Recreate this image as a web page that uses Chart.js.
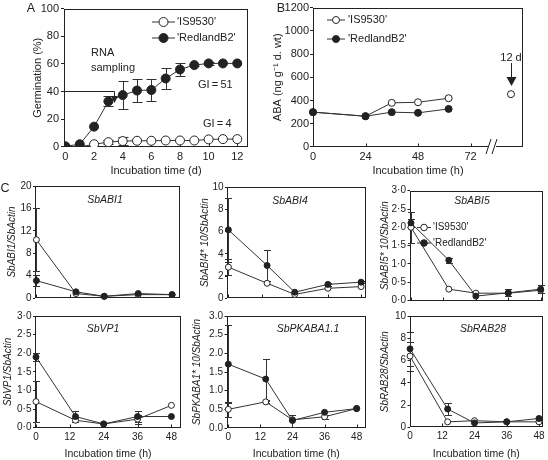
<!DOCTYPE html>
<html><head><meta charset="utf-8">
<script src="https://cdn.jsdelivr.net/npm/chart.js@4.4.1/dist/chart.umd.min.js"></script>
<style>
html,body{margin:0;padding:0;background:#fff;}
#wrap{position:relative;width:548px;height:460px;overflow:hidden;}
#wrap canvas{position:absolute;left:0;top:0;}
.n{position:absolute;white-space:nowrap;line-height:1;color:#222;font-family:'Liberation Sans',Arial,Helvetica,sans-serif;transform:translate(-50%,-50%);}
.n.l{transform:translate(0,-50%);}
.n.i{font-style:italic;font-family:'Liberation Sans Narrow','Arial Narrow','Liberation Sans',Arial,sans-serif;}
</style></head><body><div id="wrap">
<canvas id="cA" width="548" height="460"></canvas>
<canvas id="cB" width="548" height="460"></canvas>
<canvas id="c1" width="548" height="460"></canvas>
<canvas id="c2" width="548" height="460"></canvas>
<canvas id="c3" width="548" height="460"></canvas>
<canvas id="c4" width="548" height="460"></canvas>
<canvas id="c5" width="548" height="460"></canvas>
<canvas id="c6" width="548" height="460"></canvas>
</div>
<script>
// ---------- DATA ----------
// Panel A: germination (%)
const daysA = [0,1,2,3,4,5,6,7,8,9,10,11,12];
const germIS = [0,0,2,3.5,4.3,4.5,4.5,4.7,4.7,4.7,5.5,5.7,5.7];
const germISErr = [0,0,0,1.5,3,0,0,0,0,0,0,0,0];
const germRB = [0.5,2,14.7,33,37.5,40.8,41.2,49.5,56,59.2,60.4,60.4,60.4];
const germRBErr = [0,0,0,3.5,10,8.5,7.7,7.5,4.5,1,0.8,0,0];
const ticksAX = [0,2,4,6,8,10,12];
const ticksAY = [0,20,40,60,80,100];

// Panel B: ABA (ng/g d.wt)
const hoursB = [0,24,36,48,62];
const abaIS = [300,265,380,385,420];
const abaRB = [300,265,300,294,328];
const hour12d = 90.5;          // position of the 12 d sample after the axis break
const abaIS12d = 455;
const ticksBX = [0,24,48,72];
const ticksBY = [0,200,400,600,800,1000,1200];

// Panel C: relative expression
const hoursC = [0,14,24,36,48];
const ticksCX = [0,12,24,36,48];
const abi1IS = [10.4,0.8,0.3,0.6,0.6], abi1ISErr = [5.6,0,0,0,0];
const abi1RB = [3.1,1.1,0.3,0.8,0.6],  abi1RBErr = [1.0,0,0,0,0];
const abi4IS = [2.8,1.35,0.35,0.9,1.05], abi4ISErr = [0.7,0,0,0,0];
const abi4RB = [6.15,2.95,0.55,1.25,1.45], abi4RBErr = [2.85,1.4,0,0.1,0.1];
const abi5IS = [2.0,0.31,0.2,0.2,0.28], abi5ISErr = [0.42,0,0,0,0];
const abi5RB = [2.12,1.1,0.12,0.21,0.31], abi5RBErr = [0.1,0.07,0,0.1,0.1];
const vp1IS = [0.7,0.2,0.1,0.23,0.6], vp1ISErr = [0.56,0.05,0,0.12,0];
const vp1RB = [1.9,0.3,0.1,0.3,0.3],  vp1RBErr = [0.1,0.15,0,0.15,0];
const pkIS = [0.5,0.7,0.22,0.3,0.52], pkISErr = [0.2,0.03,0,0.06,0];
const pkRB = [1.71,1.31,0.2,0.42,0.52], pkRBErr = [1.05,0.55,0.16,0,0];
const rabIS = [6.4,0.5,0.6,0.5,0.5], rabISErr = [1.3,0,0,0,0];
const rabRB = [7.05,1.65,0.4,0.5,0.8], rabRBErr = [1.5,0.5,0,0,0];
const ticksY20 = [0,4,8,12,16,20];
const ticksY10 = [0,2,4,6,8,10];
const ticksY3 = [0,0.5,1,1.5,2,2.5,3];

const seriesNames = ["'IS9530'", "'RedlandB2'"];

// ---------- HELPERS ----------
const W = 548, H = 460;
const FONT = "'Liberation Sans', Arial, Helvetica, sans-serif";
const INK = '#222', LINE = '#333';

function ser(xs, ys, errs, filled, r, extra) {
  return Object.assign({
    data: xs.map((x, i) => ({x: x, y: ys[i]})),
    errors: errs,
    borderColor: LINE, borderWidth: 1, tension: 0, fill: false,
    pointRadius: r, pointHoverRadius: r, pointBorderWidth: 1,
    pointBackgroundColor: filled ? INK : '#fff', pointBorderColor: INK,
    order: filled ? 0 : 1, clip: false
  }, extra || {});
}

function legendItem(ctx, x1, x2, y, filled, r, text, tx, size) {
  ctx.save();
  ctx.strokeStyle = LINE; ctx.lineWidth = 1;
  ctx.beginPath(); ctx.moveTo(x1, y); ctx.lineTo(x2, y); ctx.stroke();
  ctx.beginPath(); ctx.arc((x1 + x2) / 2, y, r, 0, Math.PI * 2);
  ctx.fillStyle = filled ? INK : '#fff'; ctx.fill(); ctx.strokeStyle = INK; ctx.stroke();
  ctx.fillStyle = INK; ctx.font = size + 'px ' + FONT; ctx.textBaseline = 'middle'; ctx.textAlign = 'left';
  ctx.fillText(text, tx, y);
  ctx.restore();
}

function decor(P) {
  return {
    id: 'decor',
    beforeDatasetsDraw(chart) {
      const ctx = chart.ctx, a = chart.chartArea, xs = chart.scales.x, ys = chart.scales.y;
      ctx.save();
      ctx.strokeStyle = INK; ctx.lineWidth = 1;
      const L = Math.round(a.left) + 0.5, T = Math.round(a.top) + 0.5, R = Math.round(a.right) - 0.5, B = Math.round(a.bottom) - 0.5;
      ctx.strokeRect(L, T, R - L, B - T);
      P.xTicks.forEach(v => {
        const px = Math.round(xs.getPixelForValue(v)) + 0.5;
        ctx.beginPath(); ctx.moveTo(px, B); ctx.lineTo(px, B - 3); ctx.stroke();
      });
      ctx.strokeStyle = LINE;
      chart.data.datasets.forEach(ds => {
        if (!ds.errors) return;
        ds.data.forEach((p, j) => {
          const e = ds.errors[j]; if (!e) return;
          const px = Math.round(xs.getPixelForValue(p.x)) + 0.5;
          const y1 = Math.round(ys.getPixelForValue(p.y + e)) + 0.5;
          const y2 = Math.round(ys.getPixelForValue(Math.max(p.y - e, ys.min))) + 0.5;
          const c = P.cap;
          ctx.beginPath();
          ctx.moveTo(px, y1); ctx.lineTo(px, y2);
          ctx.moveTo(px - c, y1); ctx.lineTo(px + c, y1);
          if (p.y - e > ys.min) { ctx.moveTo(px - c, y2); ctx.lineTo(px + c, y2); }
          ctx.stroke();
        });
      });
      ctx.restore();
    },
    afterDraw(chart) { if (P.extra) P.extra(chart); }
  };
}

function panel(id, P) {
  const a = P.area;
  const yW = a.l - P.yTitleX + 0.6 * P.yTitleSize;
  const xH = P.xTitle ? (P.xTitleY + 0.6 * P.xTitleSize - a.b) : 6;
  const tickFont = {family: FONT, size: P.tickSize};
  return new Chart(document.getElementById(id), {
    type: 'line',
    data: {datasets: P.datasets},
    options: {
      responsive: false, animation: false, devicePixelRatio: 1, events: [],
      layout: {padding: {left: a.l - yW, top: a.t, right: W - a.r, bottom: Math.max(0, H - a.b - xH)}},
      plugins: {legend: {display: false}, tooltip: {enabled: false}},
      scales: {
        x: {
          type: 'linear', min: P.xMin, max: P.xMax,
          afterBuildTicks: s => { s.ticks = P.xTicks.map(v => ({value: v})); },
          afterFit: s => { s.height = xH; },
          grid: {display: false, drawTicks: false}, border: {display: false},
          ticks: {display: !!P.xLabels, padding: P.xPad || 3, color: INK, font: tickFont, maxRotation: 0, autoSkip: false},
          title: P.xTitle ? {display: true, text: P.xTitle, padding: 0, color: INK, font: {family: FONT, size: P.xTitleSize}} : {display: false}
        },
        y: {
          type: 'linear', min: P.yMin, max: P.yMax,
          afterBuildTicks: s => { s.ticks = P.yTicks.map(v => ({value: v})); },
          afterFit: s => { s.width = yW; },
          grid: {display: true, drawOnChartArea: false, drawTicks: true, tickLength: P.yTickLen, color: INK},
          border: {display: false},
          ticks: {padding: P.yPad, color: INK, font: tickFont, autoSkip: false, callback: P.yFmt || (v => String(v))},
          title: {display: true, text: P.yTitle, padding: 0, color: INK, font: {family: FONT, size: P.yTitleSize, style: P.yTitleStyle || 'normal'}}
        }
      }
    },
    plugins: [decor(P)]
  });
}

const dot = v => v.toFixed(1).replace('.', '\u00B7');
const pt = v => v.toFixed(1);

// ---------- PANEL A ----------
panel('cA', {
  area: {l: 64, t: 6, r: 248, b: 147},
  yTitle: 'Germination (%)', yTitleX: 38, yTitleSize: 11,
  xTitle: 'Incubation time (d)', xTitleY: 171, xTitleSize: 11,
  tickSize: 11, xLabels: true, xPad: 3,
  xMin: -0.1, xMax: 12.75, xTicks: ticksAX,
  yMin: 0, yMax: 100, yTicks: ticksAY, yTickLen: 3, yPad: 2,
  cap: 5,
  datasets: [
    ser(daysA, germIS, germISErr, false, 4.5, {clip: undefined}),
    ser(daysA, germRB, germRBErr, true, 4.5, {clip: undefined})
  ],
  extra(chart) {
    const ctx = chart.ctx;
    legendItem(ctx, 152, 175, 22, false, 4.5, seriesNames[0], 177, 11);
    legendItem(ctx, 152, 175, 38, true, 4.5, seriesNames[1], 177, 11);
    ctx.save();
    ctx.strokeStyle = INK; ctx.fillStyle = INK; ctx.lineWidth = 1;
    ctx.beginPath(); ctx.moveTo(64.5, 91.5); ctx.lineTo(114.5, 91.5); ctx.lineTo(114.5, 96); ctx.stroke();
    ctx.beginPath(); ctx.moveTo(111, 96); ctx.lineTo(118, 96); ctx.lineTo(114.5, 103); ctx.closePath(); ctx.fill();
    ctx.restore();
  }
});

// ---------- PANEL B ----------
panel('cB', {
  area: {l: 313, t: 7, r: 523, b: 147},
  yTitle: 'ABA (ng g\u207B\u00B9 d. wt)', yTitleX: 277.5, yTitleSize: 11,
  xTitle: 'Incubation time (h)', xTitleY: 171, xTitleSize: 11,
  tickSize: 11, xLabels: true, xPad: 3,
  xMin: 0, xMax: 96, xTicks: ticksBX,
  yMin: 0, yMax: 1200, yTicks: ticksBY, yTickLen: 3, yPad: 1,
  cap: 4,
  datasets: [
    ser(hoursB, abaIS, null, false, 3.5),
    ser(hoursB, abaRB, null, true, 3.5),
    ser([hour12d], [abaIS12d], null, false, 3.5, {showLine: false})
  ],
  extra(chart) {
    const ctx = chart.ctx;
    legendItem(ctx, 327, 345, 20, false, 3.5, seriesNames[0], 348, 11);
    legendItem(ctx, 327, 345, 39, true, 3.5, seriesNames[1], 348, 11);
    ctx.save();
    // axis break
    ctx.fillStyle = '#fff'; ctx.fillRect(488, 144, 8, 6);
    ctx.strokeStyle = INK; ctx.lineWidth = 1;
    ctx.beginPath();
    ctx.moveTo(486, 154); ctx.lineTo(491, 139);
    ctx.moveTo(492, 154); ctx.lineTo(497, 139);
    ctx.stroke();
    // 12 d arrow
    ctx.fillStyle = INK;
    ctx.beginPath(); ctx.moveTo(511.5, 63); ctx.lineTo(511.5, 78); ctx.stroke();
    ctx.beginPath(); ctx.moveTo(506.5, 77); ctx.lineTo(516.5, 77); ctx.lineTo(511.5, 86); ctx.closePath(); ctx.fill();
    ctx.restore();
  }
});

// ---------- PANEL C ----------
const C = {tickSize: 10, yTitleSize: 10, yTitleStyle: 'italic', yTickLen: 2, yPad: 1.5, cap: 3.5, xTicks: ticksCX};

panel('c1', Object.assign({}, C, {
  area: {l: 35, t: 186, r: 180, b: 298}, yTitle: 'SbABI1/SbActin', yTitleX: 12,
  xMin: -0.5, xMax: 50.8, yMin: 0, yMax: 20, yTicks: ticksY20,
  datasets: [ser(hoursC, abi1IS, abi1ISErr, false, 3), ser(hoursC, abi1RB, abi1RBErr, true, 3)]
}));
panel('c2', Object.assign({}, C, {
  area: {l: 227, t: 187, r: 365.5, b: 298.3}, yTitle: 'SbABI4* 10/SbActin', yTitleX: 205,
  xMin: -0.5, xMax: 49.6, yMin: 0, yMax: 10, yTicks: ticksY10,
  datasets: [ser(hoursC, abi4IS, abi4ISErr, false, 3), ser(hoursC, abi4RB, abi4RBErr, true, 3)]
}));
panel('c3', Object.assign({}, C, {
  area: {l: 409.5, t: 190.7, r: 543, b: 300.5}, yTitle: 'SbABI5* 10/SbActin', yTitleX: 385,
  xMin: -0.55, xMax: 48.85, yMin: 0, yMax: 3, yTicks: ticksY3, yFmt: dot,
  datasets: [ser(hoursC, abi5IS, abi5ISErr, false, 3), ser(hoursC, abi5RB, abi5RBErr, true, 3)],
  extra(chart) {
    legendItem(chart.ctx, 417, 431, 227.5, false, 3.3, seriesNames[0], 433, 10);
    legendItem(chart.ctx, 417, 431, 243, true, 3.3, seriesNames[1], 433, 10);
  }
}));
panel('c4', Object.assign({}, C, {
  area: {l: 35, t: 316, r: 181, b: 428}, yTitle: 'SbVP1/SbActin', yTitleX: 8,
  xTitle: 'Incubation time (h)', xTitleY: 454, xTitleSize: 10.5, xLabels: true, xPad: 3.3,
  xMin: -0.35, xMax: 51.4, yMin: 0, yMax: 3, yTicks: ticksY3, yFmt: dot,
  datasets: [ser(hoursC, vp1IS, vp1ISErr, false, 3), ser(hoursC, vp1RB, vp1RBErr, true, 3)]
}));
panel('c5', Object.assign({}, C, {
  area: {l: 226.5, t: 316, r: 366, b: 428.3}, yTitle: 'SbPKABA1* 10/SbActin', yTitleX: 197.3,
  xTitle: 'Incubation time (h)', xTitleY: 454, xTitleSize: 10.5, xLabels: true, xPad: 3.3,
  xMin: -0.67, xMax: 51.5, yMin: 0, yMax: 3, yTicks: ticksY3, yFmt: pt,
  datasets: [ser(hoursC, pkIS, pkISErr, false, 3), ser(hoursC, pkRB, pkRBErr, true, 3)]
}));
panel('c6', Object.assign({}, C, {
  area: {l: 409.5, t: 316, r: 543, b: 427.7}, yTitle: 'SbRAB28/SbActin', yTitleX: 385,
  xTitle: 'Incubation time (h)', xTitleY: 454, xTitleSize: 10.5, xLabels: true, xPad: 3.3,
  xMin: -0.2, xMax: 49.5, yMin: 0, yMax: 10, yTicks: ticksY10,
  datasets: [ser(hoursC, rabIS, rabISErr, false, 3), ser(hoursC, rabRB, rabRBErr, true, 3)]
}));

// ---------- TEXT NOTES ----------
const notes = [
  {t: 'A', x: 31, y: 8, s: 12.5}, {t: 'B', x: 281, y: 8, s: 12.5}, {t: 'C', x: 5, y: 188, s: 12.5},
  {t: 'RNA', x: 91, y: 52, s: 11, c: 'l'}, {t: 'sampling', x: 91, y: 67, s: 11, c: 'l'},
  {t: 'GI\u2009=\u200951', x: 198, y: 84, s: 11, c: 'l'}, {t: 'GI\u2009=\u20094', x: 203, y: 123, s: 11, c: 'l'},
  {t: '12 d', x: 511, y: 57, s: 11},
  {t: 'SbABI1', x: 105, y: 199, s: 10.5, c: 'i'}, {t: 'SbABI4', x: 290, y: 200, s: 10.5, c: 'i'},
  {t: 'SbABI5', x: 472, y: 200, s: 10.5, c: 'i'}, {t: 'SbVP1', x: 103, y: 328, s: 10.5, c: 'i'},
  {t: 'SbPKABA1.1', x: 308, y: 328, s: 10.5, c: 'i'}, {t: 'SbRAB28', x: 483, y: 328, s: 10.5, c: 'i'}
];
const wrap = document.getElementById('wrap');
notes.forEach(n => {
  const d = document.createElement('div');
  d.className = 'n' + (n.c ? ' ' + n.c : '');
  d.textContent = n.t;
  d.style.left = n.x + 'px'; d.style.top = n.y + 'px'; d.style.fontSize = n.s + 'px';
  wrap.appendChild(d);
});
</script>
</body></html>
